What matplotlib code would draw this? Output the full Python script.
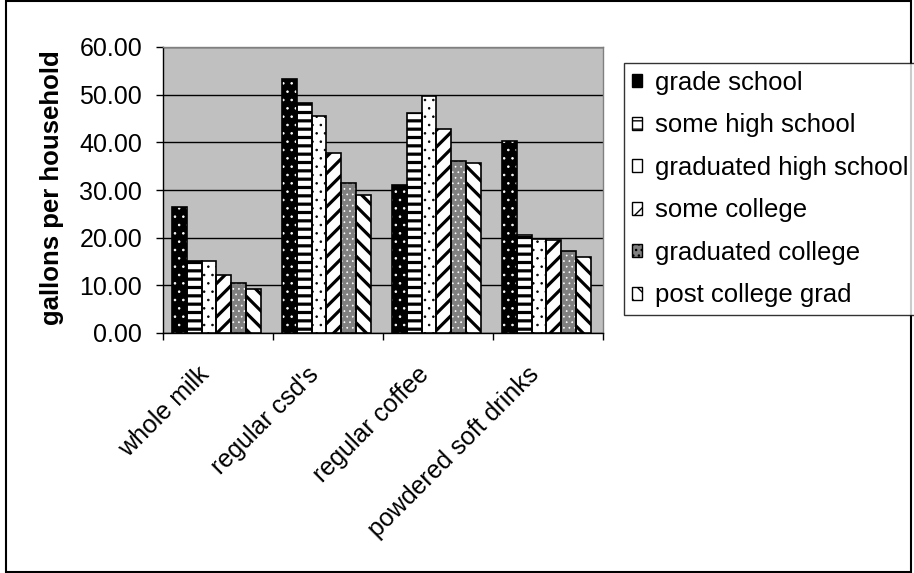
import numpy as np
import matplotlib
matplotlib.use("Agg")
import matplotlib.pyplot as plt
import matplotlib.transforms as mtransforms
from matplotlib.patches import Patch, Rectangle

# ── data ────────────────────────────────────────────────────────────────────
categories = ["whole milk", "regular csd's", "regular coffee", "powdered soft drinks"]
groups = [
    "grade school",
    "some high school",
    "graduated high school",
    "some college",
    "graduated college",
    "post college grad",
]
grade_school = [26.5, 53.3, 31.1, 40.3]
some_high_school = [15.2, 48.3, 46.2, 20.6]
graduated_high_school = [15.1, 45.6, 49.8, 19.7]
some_college = [12.2, 37.7, 42.8, 19.6]
graduated_college = [10.5, 31.4, 36.0, 17.3]
post_college_grad = [9.3, 29.0, 35.6, 16.0]
series = [
    grade_school,
    some_high_school,
    graduated_high_school,
    some_college,
    graduated_college,
    post_college_grad,
]
yticks = [0, 10, 20, 30, 40, 50, 60]

# (face, hatch colour, hatch, hatch linewidth)
styles = [
    ("black", "white", "..", 0.6),
    ("white", "black", "--", 2.3),
    ("white", "black", "..", 0.6),
    ("white", "black", "//", 2.3),
    ("#808080", "white", "...", 0.5),
    ("white", "black", "\\\\", 2.3),
]

plt.rcParams["font.family"] = ["Liberation Sans", "DejaVu Sans"]

fig = plt.figure(figsize=(9.14, 5.73), dpi=100)
ax = fig.add_axes([163 / 914, 1 - 333 / 573, 440 / 914, 286 / 573])
ax.set_facecolor("#c0c0c0")

x = np.arange(len(categories))
w = 0.135
shift = -0.015


def set_hlw(patch, lw):
    if hasattr(patch, "set_hatch_linewidth"):
        patch.set_hatch_linewidth(lw)


for i, vals in enumerate(series):
    face, hcol, hatch, hlw = styles[i]
    pos = x + shift + (i - 2.5) * w
    with plt.rc_context({"hatch.linewidth": hlw}):
        bars = ax.bar(pos, vals, width=w, color=face, edgecolor=hcol,
                      hatch=hatch, linewidth=0, zorder=3)
    for b in bars:
        set_hlw(b, hlw)
    # outline on top
    ax.bar(pos, vals, width=w, fill=False, edgecolor="black",
           linewidth=1.2, zorder=4)

# grid + axes
ax.set_ylim(0, 60)
ax.set_xlim(-0.5, len(categories) - 0.5)
ax.set_yticks(yticks)
ax.set_yticklabels([f"{v:.2f}" for v in yticks], fontsize=18)
ax.yaxis.grid(True, color="black", linewidth=1.0, zorder=1)
ax.set_axisbelow(True)
ax.tick_params(axis="y", direction="out", length=5, width=1, pad=10)

ax.set_xticks(x)
ax.set_xticks(np.arange(len(categories) + 1) - 0.5, minor=True)
ax.tick_params(axis="x", which="major", length=0, pad=27)
ax.tick_params(axis="x", which="minor", direction="out", length=5, width=1)
ax.set_xticklabels(categories, fontsize=18, rotation=45, ha="right",
                   va="center", rotation_mode="anchor")
offset = mtransforms.ScaledTranslation(-9 / 72, 0, fig.dpi_scale_trans)
for lbl in ax.get_xticklabels():
    lbl.set_transform(lbl.get_transform() + offset)

for s in ["left", "bottom"]:
    ax.spines[s].set_color("black")
    ax.spines[s].set_linewidth(1.0)
for s in ["top", "right"]:
    ax.spines[s].set_color("#808080")
    ax.spines[s].set_linewidth(1.0)

fig.text(52 / 914, 1 - 188 / 573, "gallons per household", rotation=90,
         ha="center", va="center", fontsize=18.5, fontweight="bold")

# legend
handles = []
for i, g in enumerate(groups):
    face, hcol, hatch, hlw = styles[i]
    handles.append(Patch(facecolor=face, edgecolor="black", linewidth=1.0,
                         hatch=hatch if i not in (0, 2) else None, label=g))
leg = fig.legend(
    handles=handles,
    loc="upper left",
    bbox_to_anchor=(624 / 914, 1 - 63 / 573),
    fontsize=18.5,
    frameon=True,
    fancybox=False,
    edgecolor="black",
    handlelength=0.4,
    handleheight=0.4,
    handletextpad=0.5,
    labelspacing=0.72,
    borderpad=0.3,
    borderaxespad=0,
)
leg.get_frame().set_linewidth(1.0)

# outer chart border
fig.patches.append(Rectangle((6 / 914, 1 / 573), 905 / 914, 571 / 573,
                             transform=fig.transFigure, fill=False,
                             edgecolor="black", linewidth=1.5))

fig.savefig("out.png", dpi=100)
